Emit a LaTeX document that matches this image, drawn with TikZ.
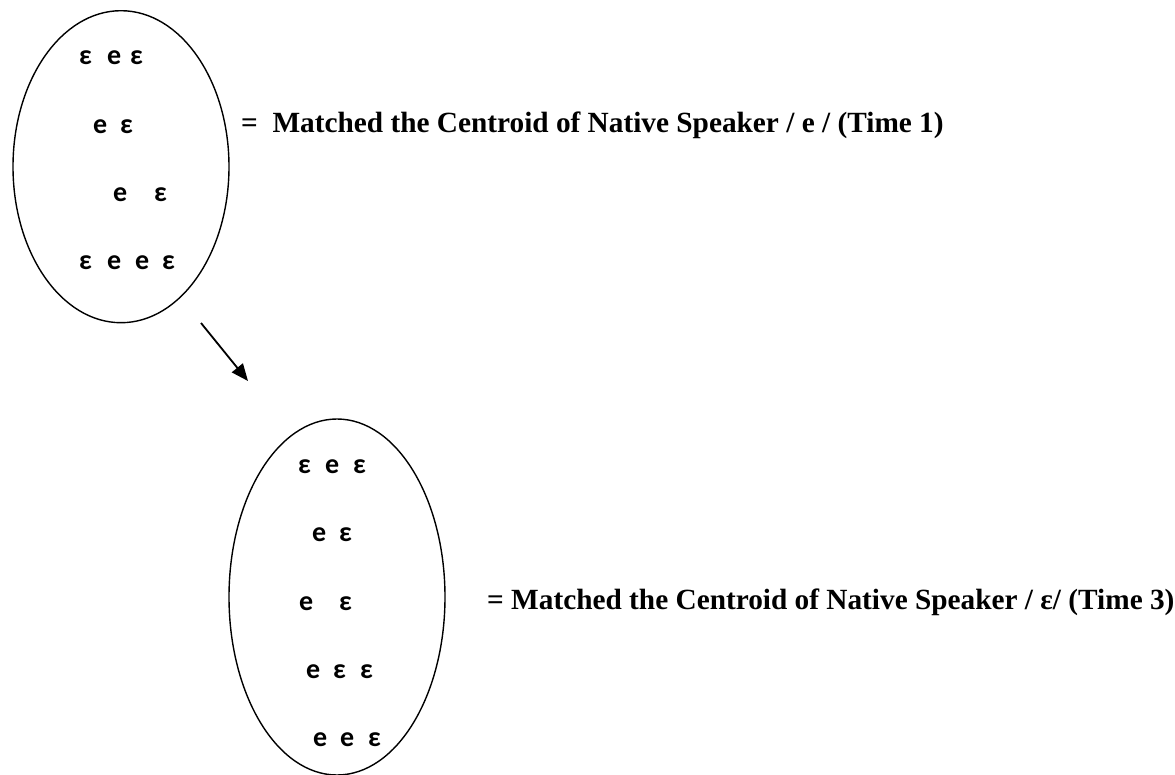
\documentclass[tikz,border=0pt]{standalone}
\usepackage{fontspec}
\setmainfont{Liberation Serif}
\newfontfamily\vowelfont{Carlito}
\usetikzlibrary{shapes.geometric,arrows.meta}
\tikzset{
  cloud/.style={draw, ellipse, line width=1.4pt, minimum width=216pt, inner sep=0pt},
  vletter/.style={anchor=base west, inner sep=0pt, font=\vowelfont\bfseries\fontsize{28}{30}\selectfont},
  label/.style={anchor=base west, inner sep=0pt, font=\bfseries\fontsize{29.3}{31}\selectfont},
  pointer/.style={line width=1.8pt, -{Triangle[length=17pt,width=14pt]}}
}
\begin{document}
\begin{tikzpicture}[x=1pt,y=-1pt]
\useasboundingbox (0,0) rectangle (1175,774);
% first cluster
\node[cloud, minimum height=312pt] (e1) at (121,166.7) {};
\foreach \x/\c [count=\i] in {79/ε,107/e,130/ε} \node[vletter] (p11-\i) at (\x,64) {\c};
\foreach \x/\c [count=\i] in {93/e,120/ε} \node[vletter] (p12-\i) at (\x,133) {\c};
\foreach \x/\c [count=\i] in {113/e,154/ε} \node[vletter] (p13-\i) at (\x,201) {\c};
\foreach \x/\c [count=\i] in {79/ε,107/e,135/e,162/ε} \node[vletter] (p14-\i) at (\x,269) {\c};
\node[label] (t1) at (241,132.7) {=\ \ Matched the Centroid of Native Speaker / e / (Time 1)};
% arrow
\coordinate (a1) at (201,323);
\coordinate (a2) at (248,381);
\draw[pointer] (a1) -- (a2);
% second cluster
\node[cloud, minimum height=356pt] (e2) at (337,597) {};
\foreach \x/\c [count=\i] in {298/ε,325/e,353/ε} \node[vletter] (p21-\i) at (\x,473) {\c};
\foreach \x/\c [count=\i] in {312/e,339/ε} \node[vletter] (p22-\i) at (\x,541) {\c};
\foreach \x/\c [count=\i] in {299/e,339/ε} \node[vletter] (p23-\i) at (\x,610) {\c};
\foreach \x/\c [count=\i] in {306/e,333/ε,360/ε} \node[vletter] (p24-\i) at (\x,678) {\c};
\foreach \x/\c [count=\i] in {313/e,340/e,368/ε} \node[vletter] (p25-\i) at (\x,746) {\c};
\node[label] (t2) at (487,609) {= Matched the Centroid of Native Speaker / ε/ (Time 3)};
\end{tikzpicture}
\end{document}
